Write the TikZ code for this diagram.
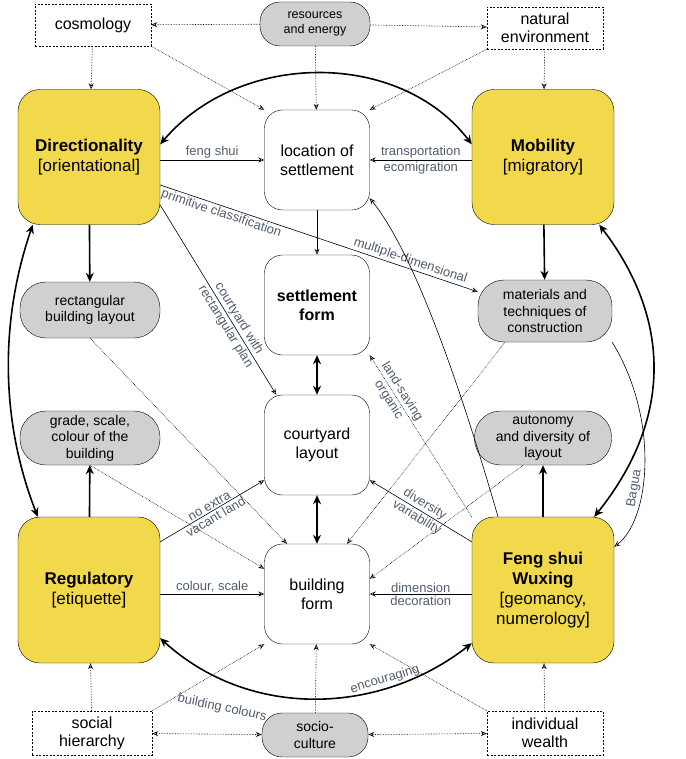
\documentclass[tikz,border=0pt]{standalone}
\usepackage{fontspec}
\setmainfont{Liberation Sans}
\usetikzlibrary{arrows.meta,positioning}
\definecolor{fsyellow}{RGB}{242,217,76}
\definecolor{fsgray}{RGB}{208,208,208}
\definecolor{lblblue}{RGB}{80,92,110}

\begin{document}
\begin{tikzpicture} [
        x = 1pt, y = -1pt,
        every node/.style = {align=center, inner sep=1pt},
        yel/.style = {draw, fill=fsyellow, rounded corners=22pt,
                     minimum width=142pt, minimum height=#1,
                     font=\fontsize{17}{20}\selectfont},
        wht/.style = {draw, fill=white, rounded corners=18pt,
                     minimum width=105pt, minimum height=100pt,
                     font=\fontsize{16}{19}\selectfont},
        gry/.style = {draw, fill=fsgray, rounded corners=26pt,
                     minimum width=#1, minimum height=56pt,
                     font=\fontsize{14}{16.5}\selectfont},
        dsh/.style = {draw, dash pattern=on 2pt off 1.5pt,
                     minimum width=116pt, minimum height=42pt,
                     font=\fontsize{16}{18}\selectfont},
        lbl/.style = {text=lblblue, font=\fontsize{13}{15}\selectfont, inner sep=1.5pt},
        arr/.style = {-{Stealth[length=6pt,width=5pt,open]}, line width=0.6pt},
        dot/.style = {-{Stealth[length=6pt,width=5pt,open]}, densely dotted, line width=0.6pt},
        dotdot/.style = {{Stealth[length=6pt,width=5pt,open]}-{Stealth[length=6pt,width=5pt,open]}, densely dotted, line width=0.6pt},
        bold/.style = {-{Stealth[length=9pt,width=8pt]}, line width=1.6pt},
        both/.style = {{Stealth[length=9pt,width=8pt]}-{Stealth[length=9pt,width=8pt]}, line width=1.6pt}
    ]
    \useasboundingbox (0,0) rectangle (685,759);

    % outer drivers
    \node (Cosmo) [dsh] at (93,25) {cosmology};
    \node (Res) [gry=110pt, minimum height=44pt, rounded corners=20pt,
                 font=\fontsize{12.5}{15}\selectfont] at (315,24) {resources\\and energy};
    \node (Nat) [dsh] at (545,28) {natural\\environment};
    \node (Soc) [dsh, minimum width=120pt, minimum height=44pt] at (92,733) {social\\hierarchy};
    \node (Cult) [gry=106pt, minimum height=44pt, rounded corners=20pt] at (315,735) {socio-\\culture};
    \node (Wealth) [dsh, minimum height=44pt] at (545,733) {individual\\wealth};

    % four principles
    \node (Dir) [yel=135pt] at (89,157) {\textbf{Directionality}\\{[orientational]}};
    \node (Mob) [yel=135pt] at (543,157) {\textbf{Mobility}\\{[migratory]}};
    \node (Reg) [yel=146pt] at (89,590) {\textbf{Regulatory}\\{[etiquette]}};
    \node (Fsw) [yel=146pt] at (543,590) {\textbf{Feng shui}\\\textbf{Wuxing}\\{[geomancy,}\\numerology]};

    % settlement chain
    \node (Loc) [wht] at (317,160) {location of\\settlement};
    \node (Set) [wht] at (317,305) {\textbf{settlement}\\\textbf{form}};
    \node (Court) [wht] at (317,445) {courtyard\\layout};
    \node (Bld) [wht] at (317,594) {building\\form};

    % grey factors
    \node (Rect) [gry=140pt] at (90,310) {rectangular\\building layout};
    \node (Mat) [gry=134pt, minimum height=62pt] at (545,311) {materials and\\techniques of\\construction};
    \node (Grade) [gry=140pt, minimum height=54pt] at (90,438) {grade, scale,\\colour of the\\building};
    \node (Auto) [gry=137pt, minimum height=54pt] at (543,438) {autonomy\\and diversity of\\layout};

    % dotted influences
    \draw [dot] (Res) -- (Cosmo);
    \draw [dot] (Res) -- (Nat);
    \draw [dot] (Res) -- (Loc);
    \draw [dot] (Cosmo.south east) -- (Loc.north west);
    \draw [dot] (Nat.south west) -- (Loc.north east);
    \draw [dot] (Cosmo) -- (Dir);
    \draw [dot] (Nat) -- (Mob);
    \draw [dot] (Soc) -- (Reg);
    \draw [dot] (Wealth) -- (Fsw);
    \draw [dotdot] (Soc) -- (Cult);
    \draw [dotdot] (Cult) -- (Wealth);
    \draw [dot] (Cult) -- (Bld);
    \draw [dot] (Soc.north east) -- (Bld.south west);
    \draw [dot] (Wealth.north west) -- (Bld.south east);
    \draw [dot] (Rect.south) -- ([xshift=-30pt]Bld.north);
    \draw [dot] (Grade.south) -- ([yshift=-25pt]Bld.north west);
    \draw [dot] ([xshift=-40pt]Mat.south) -- ([xshift=30pt]Bld.north);
    \draw [dot] ([xshift=-20pt]Auto.south) -- ([yshift=-35pt]Bld.north east);
    \draw [dot] (Fsw.north west) -- (Set.south east)
        node [lbl, pos=0.75, sloped, above] {land-saving}
        node [lbl, pos=0.75, sloped, below] {organic};

    % thick links
    \draw [both] ([yshift=-55pt]Dir.north east) .. controls (240,50) and (400,50) .. ([yshift=-55pt]Mob.north west);
    \draw [both] ([xshift=15pt]Dir.south west) .. controls (0,320) and (0,420) .. ([xshift=20pt]Reg.north west);
    \draw [both] ([xshift=-15pt]Mob.south east) .. controls (672,320) and (672,420) .. ([xshift=-20pt]Fsw.north east);
    \draw [both] ([yshift=25pt]Reg.south east) .. controls (250,720) and (380,715) .. ([yshift=20pt]Fsw.south west)
        node [lbl, pos=0.72, sloped, above] {encouraging};
    \node [lbl, rotate=-12] at (222,708) {building colours};
    \draw [bold] (Dir) -- (Rect);
    \draw [bold] (Mob) -- (Mat);
    \draw [bold] (Reg) -- (Grade);
    \draw [bold] (Fsw) -- (Auto);
    \draw [both] (Set) -- (Court);
    \draw [both] (Court) -- (Bld);

    % thin links
    \draw [arr] (Dir.east |- Loc) -- (Loc)
        node [lbl, midway, above] {feng shui};
    \draw [arr] (Mob.west |- Loc) -- (Loc)
        node [lbl, midway, above] {transportation}
        node [lbl, midway, below] {ecomigration};
    \draw [arr] (Loc) -- (Set);
    \draw [arr] ([yshift=-48pt]Dir.east) -- ([xshift=12pt]Court.north west)
        node [lbl, pos=0.62, sloped, above] {courtyard with}
        node [lbl, pos=0.62, sloped, below] {rectangular plan};
    \draw [arr] ([yshift=-28pt]Dir.east) -- ([yshift=-12pt]Mat.north west)
        node [lbl, pos=0.2, sloped, below] {primitive classification}
        node [lbl, pos=0.78, sloped, above] {multiple-dimensional};
    \draw [arr] ([xshift=-45pt]Fsw.north) .. controls (470,420) and (420,260) .. ([yshift=12pt]Loc.south east);
    \draw [arr] (Mat.south east) .. controls (660,420) and (650,520) .. ([yshift=-30pt]Fsw.north east)
        node [lbl, pos=0.62, sloped, above] {Bagua};
    \draw [arr] ([yshift=-25pt]Fsw.north west) -- ([yshift=15pt]Court.south east)
        node [lbl, midway, sloped, above] {diversity}
        node [lbl, midway, sloped, below] {variability};
    \draw [arr] (Fsw.west |- Bld) -- (Bld)
        node [lbl, midway, above] {dimension}
        node [lbl, midway, below] {decoration};
    \draw [arr] ([yshift=-25pt]Reg.north east) -- ([yshift=15pt]Court.south west)
        node [lbl, midway, sloped, above] {no extra}
        node [lbl, midway, sloped, below] {vacant land};
    \draw [arr] (Reg.east |- Bld) -- (Bld)
        node [lbl, midway, above] {colour, scale};

\end{tikzpicture}
\end{document}
